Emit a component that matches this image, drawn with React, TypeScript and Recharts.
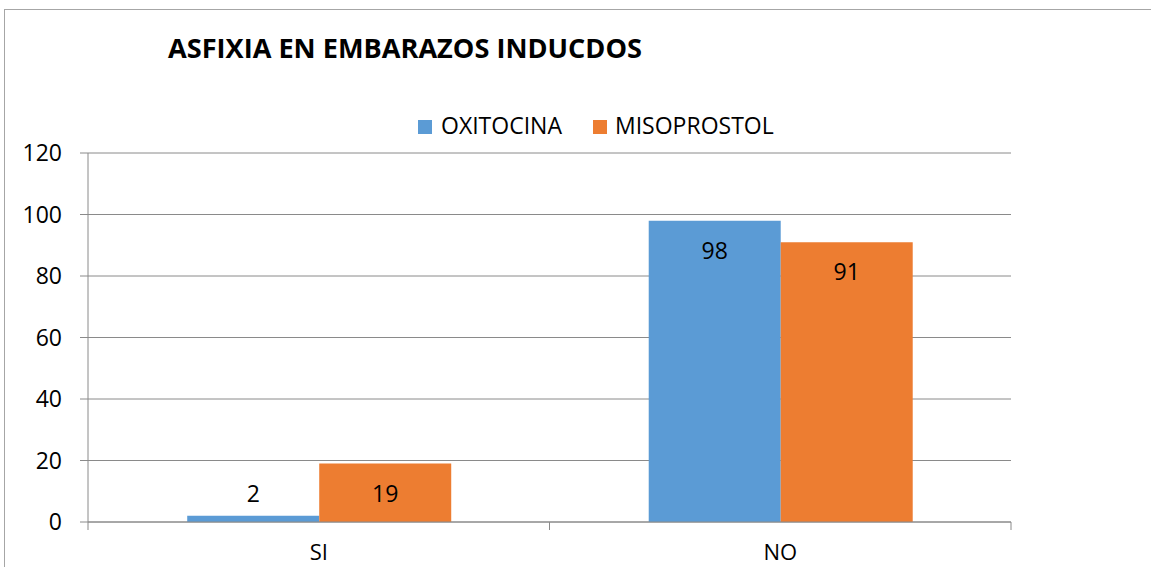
import React from 'react';
import { BarChart, Bar, XAxis, YAxis, CartesianGrid, LabelList } from 'recharts';

const categories = ['SI', 'NO'];
const oxitocina = [2, 98];
const misoprostol = [19, 91];
const yTicks = [0, 20, 40, 60, 80, 100, 120];
const seriesNames = ['OXITOCINA', 'MISOPROSTOL'];
const seriesColors = ['#5B9BD5', '#ED7D31'];
const title = 'ASFIXIA EN EMBARAZOS INDUCDOS';

const data = categories.map((c, i) => ({
  name: c,
  oxitocina: oxitocina[i],
  misoprostol: misoprostol[i],
}));

const W = 1151;
const H = 567;
const PLOT_LEFT = 88;
const PLOT_RIGHT = 1011;
const PLOT_TOP = 153;
const PLOT_BOTTOM = 522;
const FONT = '"Open Sans", "Liberation Sans", sans-serif';
const AXIS_COLOR = '#8a8a8a';

const renderLabel = (props: any) => {
  const x = Number(props.x);
  const y = Number(props.y);
  const width = Number(props.width);
  const height = Number(props.height);
  const cy = Math.min(y + 29, y + height - 29);
  return (
    <text
      x={x + width / 2}
      y={cy}
      textAnchor="middle"
      dominantBaseline="central"
      fontFamily={FONT}
      fontSize={23}
      fill="#000"
    >
      {props.value}
    </text>
  );
};

const XTick = (props: any) => {
  const { x, y, payload, index } = props;
  const half = (PLOT_RIGHT - PLOT_LEFT) / categories.length / 2;
  const isLast = index === categories.length - 1;
  return (
    <g>
      <line x1={x - half} y1={y} x2={x - half} y2={y + 8} stroke={AXIS_COLOR} strokeWidth={1} />
      {isLast && (
        <line x1={x + half} y1={y} x2={x + half} y2={y + 8} stroke={AXIS_COLOR} strokeWidth={1} />
      )}
      <text
        x={x}
        y={y + 29}
        textAnchor="middle"
        dominantBaseline="central"
        fontFamily={FONT}
        fontSize={22}
        fill="#000"
      >
        {payload.value}
      </text>
    </g>
  );
};

export default function App() {
  return (
    <div style={{ position: 'absolute', left: 0, top: 0, width: W, height: H, overflow: 'hidden', background: '#fff' }}>
      <svg width={W} height={H} style={{ position: 'absolute', left: 0, top: 0 }}>
        <rect x={4.5} y={9.5} width={1300} height={700} fill="none" stroke="#a6a6a6" strokeWidth={1} />
        <text
          x={168}
          y={58}
          fontFamily={FONT}
          fontWeight="bold"
          fontSize={27}
          fill="#000"
          textLength={474}
          lengthAdjust="spacingAndGlyphs"
        >
          {title}
        </text>
        <rect x={418} y={120} width={14} height={14} fill={seriesColors[0]} />
        <text x={441} y={134} fontFamily={FONT} fontSize={23} fill="#000">
          {seriesNames[0]}
        </text>
        <rect x={593} y={120} width={14} height={14} fill={seriesColors[1]} />
        <text x={615} y={134} fontFamily={FONT} fontSize={23} fill="#000">
          {seriesNames[1]}
        </text>
      </svg>
      <div style={{ position: 'absolute', left: 0, top: 0 }}>
        <BarChart
          width={W}
          height={H}
          data={data}
          margin={{ top: PLOT_TOP, right: W - PLOT_RIGHT, bottom: 0, left: 0 }}
          barCategoryGap="21.5%"
          barGap={0}
        >
          <CartesianGrid vertical={false} stroke={AXIS_COLOR} strokeWidth={1} />
          <XAxis
            dataKey="name"
            height={H - PLOT_BOTTOM}
            tickSize={0}
            tickMargin={0}
            tickLine={false}
            axisLine={{ stroke: AXIS_COLOR, strokeWidth: 1 }}
            tick={<XTick />}
            interval={0}
          />
          <YAxis
            width={PLOT_LEFT}
            domain={[0, 120]}
            ticks={yTicks}
            interval={0}
            tickSize={8}
            tickMargin={18}
            tickLine={{ stroke: AXIS_COLOR, strokeWidth: 1 }}
            axisLine={{ stroke: AXIS_COLOR, strokeWidth: 1 }}
            tick={{ fontFamily: FONT, fontSize: 23, fill: '#000' }}
          />
          <Bar dataKey="oxitocina" name={seriesNames[0]} fill={seriesColors[0]} isAnimationActive={false}>
            <LabelList dataKey="oxitocina" content={renderLabel} />
          </Bar>
          <Bar dataKey="misoprostol" name={seriesNames[1]} fill={seriesColors[1]} isAnimationActive={false}>
            <LabelList dataKey="misoprostol" content={renderLabel} />
          </Bar>
        </BarChart>
      </div>
    </div>
  );
}
